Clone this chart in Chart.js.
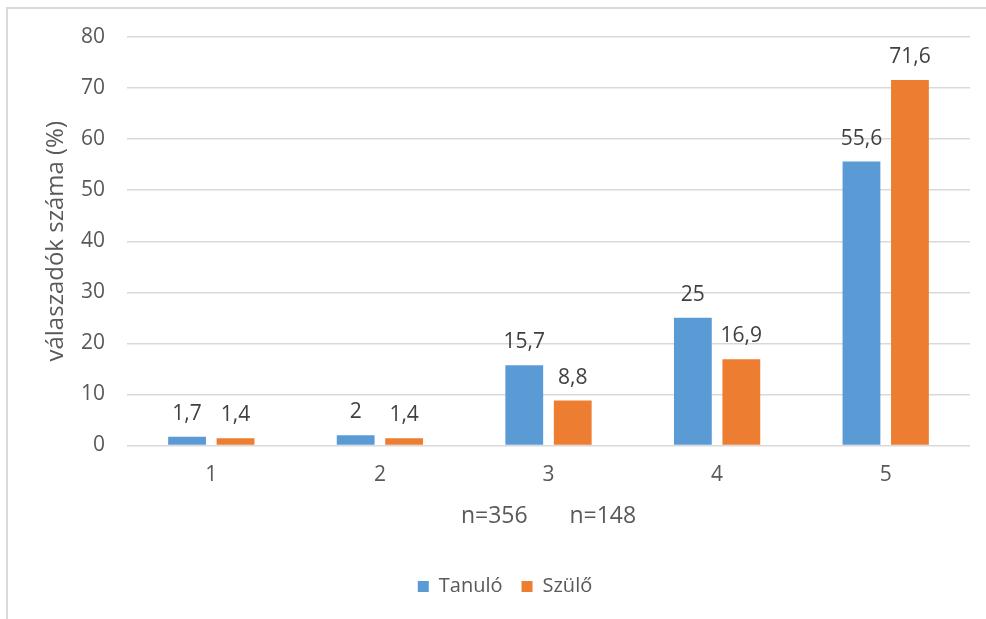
<!DOCTYPE html>
<html>
<head>
<meta charset="utf-8">
<script src="https://cdn.jsdelivr.net/npm/chart.js@4/dist/chart.umd.min.js"></script>
<style>
  html, body { margin: 0; padding: 0; background: #fff; }
  #wrap { position: absolute; left: 0; top: 0; width: 986px; height: 619px; overflow: hidden; }
  #frame { position: absolute; left: 6px; top: 7px; width: 1000px; height: 640px;
           border-left: 2px solid #d9d9d9; border-top: 2px solid #d9d9d9; }
  canvas { position: absolute; left: 0; top: 0; }
</style>
</head>
<body>
<div id="wrap">
  <div id="frame"></div>
  <canvas id="chart" width="986" height="619"></canvas>
</div>
<script>
// Rating categories on the x axis
const categories = ['1', '2', '3', '4', '5'];
// Share of respondents (%) per rating
const tanuloValues = [1.7, 2, 15.7, 25, 55.6];
const szuloValues = [1.4, 1.4, 8.8, 16.9, 71.6];
// Value axis ticks
const yTicks = [0, 10, 20, 30, 40, 50, 60, 70, 80];
const sampleNote = 'n=356       n=148';

const FONT = '"Open Sans", "Noto Sans", sans-serif';
const fmt = v => String(v).replace('.', ',');

// Writes each bar's value above it, Hungarian decimal comma
const valueLabels = {
  id: 'valueLabels',
  afterDatasetsDraw(chart) {
    const ctx = chart.ctx;
    ctx.save();
    ctx.font = '21px ' + FONT;
    ctx.fillStyle = '#404040';
    ctx.textAlign = 'center';
    ctx.textBaseline = 'alphabetic';
    chart.data.datasets.forEach((ds, i) => {
      chart.getDatasetMeta(i).data.forEach((bar, j) => {
        ctx.fillText(fmt(ds.data[j]), bar.x, bar.y - 17);
      });
    });
    ctx.restore();
  }
};

new Chart(document.getElementById('chart'), {
  type: 'bar',
  data: {
    labels: categories,
    datasets: [
      { label: 'Tanuló', data: tanuloValues, backgroundColor: '#5B9BD5',
        categoryPercentage: 0.575, barPercentage: 0.78 },
      { label: 'Szülő', data: szuloValues, backgroundColor: '#ED7D31',
        categoryPercentage: 0.575, barPercentage: 0.78 }
    ]
  },
  options: {
    responsive: false,
    animation: false,
    layout: { padding: { top: 37, left: 40, right: 16, bottom: 12.5 } },
    scales: {
      x: {
        grid: { display: false, drawTicks: false },
        border: { display: false },
        ticks: { color: '#595959', font: { family: FONT, size: 21 }, padding: 17 },
        title: { display: true, text: sampleNote, color: '#595959',
                 font: { family: FONT, size: 23 }, padding: { top: 0, bottom: 27.7 } },
        afterFit(scale) { scale.height = 112; }
      },
      y: {
        min: 0, max: 80,
        afterBuildTicks(scale) { scale.ticks = yTicks.map(v => ({ value: v })); },
        grid: { color: '#d9d9d9', lineWidth: 1.5, drawTicks: false },
        border: { display: false },
        ticks: { color: '#595959', font: { family: FONT, size: 21 }, padding: 22 },
        title: { display: true, text: 'válaszadók száma (%)', color: '#595959',
                 font: { family: FONT, size: 24 }, padding: { top: 1.6, bottom: 0 } },
        afterFit(scale) { scale.width = 87; }
      }
    },
    plugins: {
      legend: {
        position: 'bottom',
        labels: { color: '#595959', font: { family: FONT, size: 20 },
                  boxWidth: 11, boxHeight: 11, padding: 19 }
      },
      tooltip: { enabled: false }
    }
  },
  plugins: [valueLabels]
});
</script>
</body>
</html>
